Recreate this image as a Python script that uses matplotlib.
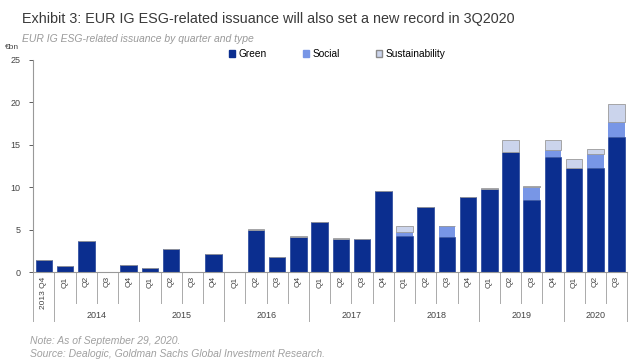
import numpy as np
import matplotlib
matplotlib.use('Agg')
import matplotlib.pyplot as plt
from matplotlib.patches import Patch
import matplotlib.transforms as mtransforms

plt.rcParams['font.family'] = ['Liberation Sans', 'DejaVu Sans']

quarters = ['2013 Q4',
            'Q1', 'Q2', 'Q3', 'Q4',
            'Q1', 'Q2', 'Q3', 'Q4',
            'Q1', 'Q2', 'Q3', 'Q4',
            'Q1', 'Q2', 'Q3', 'Q4',
            'Q1', 'Q2', 'Q3', 'Q4',
            'Q1', 'Q2', 'Q3', 'Q4',
            'Q1', 'Q2', 'Q3']
years = ['2014', '2015', '2016', '2017', '2018', '2019', '2020']
year_quarters = [4, 4, 4, 4, 4, 4, 3]

green = [1.4,
         0.7, 3.7, 0.0, 0.8,
         0.5, 2.7, 0.0, 2.1,
         0.0, 5.0, 1.8, 4.1,
         5.9, 3.9, 3.9, 9.5,
         4.3, 7.6, 4.1, 8.8,
         9.8, 14.1, 8.5, 13.6,
         12.3, 12.2, 15.9]
social = [0.0,
          0.0, 0.0, 0.0, 0.0,
          0.0, 0.0, 0.0, 0.0,
          0.0, 0.0, 0.0, 0.0,
          0.0, 0.0, 0.0, 0.0,
          0.4, 0.0, 1.3, 0.0,
          0.0, 0.0, 1.5, 0.8,
          0.0, 1.75, 1.8]
sustainability = [0.0,
                  0.0, 0.0, 0.0, 0.0,
                  0.0, 0.0, 0.0, 0.0,
                  0.0, 0.1, 0.0, 0.1,
                  0.0, 0.1, 0.0, 0.0,
                  0.7, 0.0, 0.05, 0.0,
                  0.1, 1.5, 0.15, 1.1,
                  1.0, 0.55, 2.05]

c_green = '#0b2e8f'
c_social = '#7896e6'
c_sust = '#cbd4ec'

fig = plt.figure(figsize=(6.4, 3.6), dpi=100)
ax = fig.add_axes([0.052, 0.2444, 0.928, 0.5896])

x = np.arange(len(quarters))
g = np.array(green)
s = np.array(social)
u = np.array(sustainability)
ax.bar(x, g, width=0.78, color=c_green, edgecolor=c_green, linewidth=0.4)
ax.bar(x, s, width=0.78, bottom=g, color=c_social, linewidth=0)
ax.bar(x, u, width=0.78, bottom=g + s, color=c_sust, edgecolor='#9a9a9a', linewidth=0.6)

ax.set_xlim(-0.5, len(quarters) - 0.5)
ax.set_ylim(0, 25)
ax.set_yticks([0, 5, 10, 15, 20, 25])
ax.tick_params(axis='y', labelsize=6.5, colors='#444444', length=3, width=0.6, pad=6)
ax.set_xticks([])
for sp in ['top', 'right']:
    ax.spines[sp].set_visible(False)
ax.spines['left'].set_color('#999999')
ax.spines['left'].set_linewidth(0.8)
ax.spines['bottom'].set_color('#999999')
ax.spines['bottom'].set_linewidth(0.8)

trans = mtransforms.blended_transform_factory(ax.transData, ax.transAxes)
# quarter labels
for i, q in enumerate(quarters):
    ax.text(i, -0.02, q, transform=trans, rotation=90, ha='center', va='top',
            fontsize=6, color='#444444')
# separators
year_edges = [0.5]
for n in year_quarters:
    year_edges.append(year_edges[-1] + n)
for i in range(len(quarters) + 1):
    xe = i - 0.5
    long = (xe in year_edges) or i == 0
    ax.plot([xe, xe], [0, -0.23 if long else -0.146], transform=trans,
            color='#aaaaaa', lw=0.7, clip_on=False)
# year labels
for yname, a, b in zip(years, year_edges[:-1], year_edges[1:]):
    ax.text((a + b) / 2, -0.205, yname, transform=trans, ha='center', va='center',
            fontsize=6.5, color='#444444')

fig.text(0.034, 0.948, 'Exhibit 3: EUR IG ESG-related issuance will also set a new record in 3Q2020',
         fontsize=10.4, color='#3a3a3a', va='center', ha='left')
fig.text(0.034, 0.893, 'EUR IG ESG-related issuance by quarter and type',
         fontsize=7.5, color='#9a9a9a', style='italic', va='center', ha='left')
fig.text(0.008, 0.868, '\u20acbn', fontsize=6, color='#444444', va='center', ha='left')

handles = [Patch(facecolor=c_green, edgecolor=c_green),
           Patch(facecolor=c_social, edgecolor=c_social),
           Patch(facecolor=c_sust, edgecolor='#8a8a8a')]
fig.legend(handles, ['Green', 'Social', 'Sustainability'], loc='center',
           bbox_to_anchor=(0.527, 0.85), ncol=3, frameon=False, fontsize=7.3,
           handlelength=0.6, handleheight=0.6, handletextpad=0.3, columnspacing=3.6)

fig.text(0.047, 0.052, 'Note: As of September 29, 2020.', fontsize=7.5, color='#a0a0a0',
         style='italic', va='center', ha='left')
fig.text(0.047, 0.018, 'Source: Dealogic, Goldman Sachs Global Investment Research.',
         fontsize=7.5, color='#a0a0a0', style='italic', va='center', ha='left')

fig.savefig('out.png', dpi=100)
